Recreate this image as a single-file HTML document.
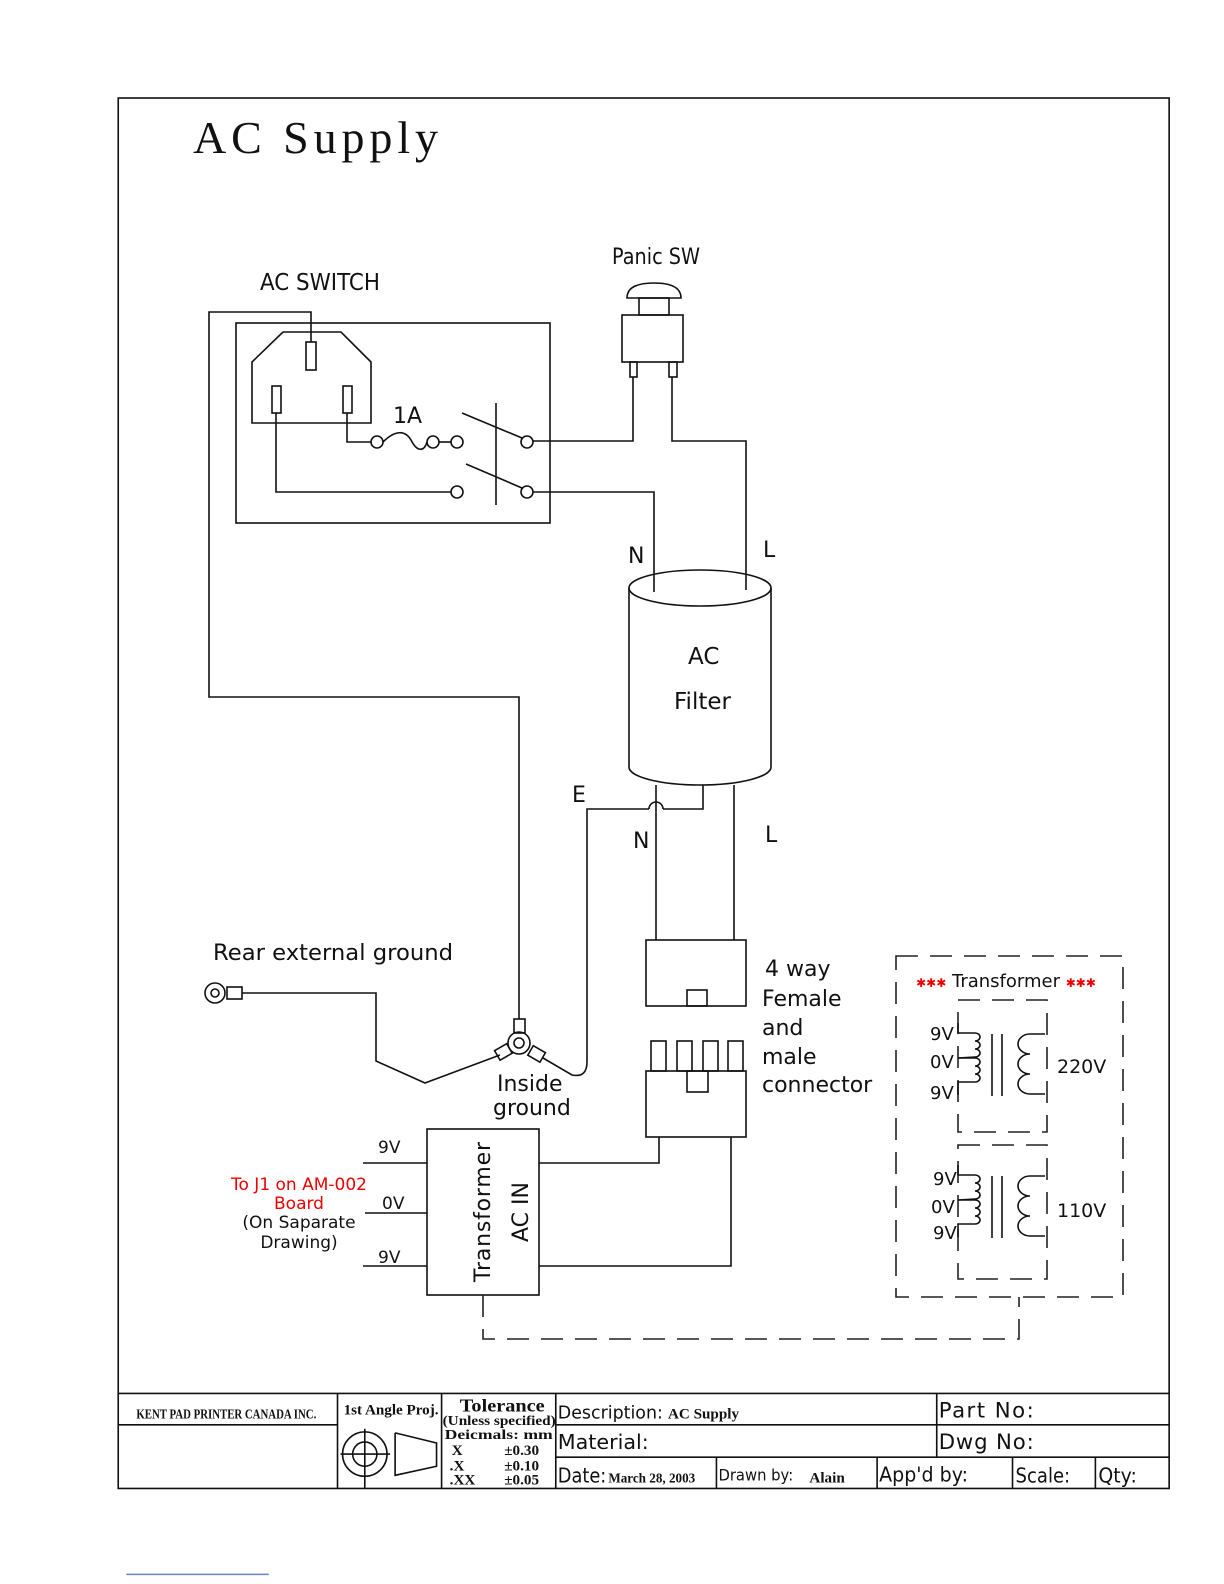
<!DOCTYPE html>
<html><head><meta charset="utf-8"><style>
html,body{margin:0;padding:0;background:#fff}
svg{display:block}
text{font-family:"DejaVu Sans","Liberation Sans",sans-serif;fill:#111}
.s{fill:none;stroke:#111;stroke-width:1.6}
.d{fill:none;stroke:#222;stroke-width:1.6;stroke-dasharray:22 12}
.tb{font-family:"Liberation Serif",serif;font-weight:bold}
</style></head><body>
<svg width="1224" height="1584" viewBox="0 0 1224 1584" xmlns="http://www.w3.org/2000/svg">
<text x="193" y="153" style="font-family:'Liberation Serif',serif;font-size:46px" textLength="245">AC  Supply</text>

<!-- AC switch -->
<text x="260" y="290" font-size="23" textLength="120" lengthAdjust="spacingAndGlyphs">AC SWITCH</text>
<rect x="236" y="323" width="314" height="200" class="s"/>
<polyline class="s" points="283,332 341,332 371,362 371,423 252,423 252,362 283,332"/>
<rect x="306" y="342" width="10" height="28" class="s"/>
<rect x="272" y="386" width="9" height="27" class="s"/>
<rect x="343" y="386" width="9" height="27" class="s"/>
<polyline class="s" points="311,342 311,312 209,312 209,697 519,697 519,1019"/>
<polyline class="s" points="347,413 347,442 371,442"/>
<circle cx="377" cy="442" r="6" class="s"/>
<path class="s" d="M383,442 C395,430 405,430 411,440 C417,452 424,452 427,442"/>
<circle cx="433" cy="442" r="6" class="s"/>
<line x1="439" y1="442" x2="451" y2="442" class="s"/>
<circle cx="457" cy="442" r="6" class="s"/>
<text x="393" y="423" font-size="22">1A</text>
<line x1="462" y1="413" x2="522" y2="438" class="s"/>
<line x1="466" y1="464" x2="522" y2="488" class="s"/>
<line x1="496" y1="403" x2="496" y2="505" class="s"/>
<circle cx="527" cy="442" r="6" class="s"/>
<circle cx="527" cy="492" r="6" class="s"/>
<polyline class="s" points="276,413 276,492 451,492"/>
<circle cx="457" cy="492" r="6" class="s"/>

<!-- Panic switch -->
<text x="612" y="264" font-size="22" textLength="88" lengthAdjust="spacingAndGlyphs">Panic SW</text>
<path class="s" d="M627,298 Q627,283 654,283 Q681,283 681,298 Z"/>
<rect x="639" y="298" width="30" height="17" class="s"/>
<rect x="622" y="315" width="61" height="47" class="s"/>
<rect x="630" y="362" width="7" height="15" class="s"/>
<rect x="669" y="362" width="8" height="15" class="s"/>
<polyline class="s" points="633,377 633,441 533,441"/>
<polyline class="s" points="672,377 672,441 746,441 746,590"/>
<polyline class="s" points="533,492 654,492 654,592"/>
<text x="628" y="563" font-size="22">N</text>
<text x="763" y="557" font-size="22">L</text>

<!-- Filter -->
<path class="s" d="M629,588 L629,767 A71,18 0 0 0 771,767 L771,588"/>
<ellipse cx="700" cy="588" rx="71" ry="18" class="s"/>
<text x="688" y="664" font-size="23">AC</text>
<text x="674" y="709" font-size="23">Filter</text>
<text x="572" y="802" font-size="22">E</text>
<polyline class="s" points="703,785 703,809 663,809"/>
<path class="s" d="M663,809 A7,7 0 0 0 649,809"/>
<path class="s" d="M649,809 L587,809 L587,1062 Q587,1078 572,1075 L543,1058"/>
<line x1="656" y1="785" x2="656" y2="940" class="s"/>
<line x1="734" y1="785" x2="734" y2="940" class="s"/>
<text x="633" y="848" font-size="22">N</text>
<text x="765" y="842" font-size="22">L</text>

<!-- connectors -->
<rect x="646" y="940" width="100" height="66" class="s"/>
<rect x="687" y="990" width="20" height="16" class="s"/>
<rect x="651" y="1041" width="15" height="30" class="s"/>
<rect x="677" y="1041" width="15" height="30" class="s"/>
<rect x="703" y="1041" width="15" height="30" class="s"/>
<rect x="728" y="1041" width="15" height="30" class="s"/>
<rect x="646" y="1071" width="100" height="66" class="s"/>
<rect x="687" y="1071" width="21" height="21" class="s"/>
<text font-size="22"><tspan x="765" y="976">4 way</tspan><tspan x="762" y="1006">Female</tspan><tspan x="762" y="1035">and</tspan><tspan x="762" y="1064">male</tspan><tspan x="762" y="1092">connector</tspan></text>

<!-- ground -->
<text x="213" y="960" font-size="22" textLength="240" lengthAdjust="spacingAndGlyphs">Rear external ground</text>
<circle cx="215" cy="993" r="10" class="s"/>
<circle cx="215" cy="993" r="4" class="s"/>
<rect x="227" y="987" width="15" height="12" class="s"/>
<polyline class="s" points="242,993 376,993 376,1061 425,1083 500,1055"/>
<rect x="514" y="1019" width="11" height="14" class="s"/>
<circle cx="519" cy="1043" r="11" class="s"/>
<circle cx="519" cy="1043" r="5" class="s"/>
<g transform="translate(504,1051) rotate(-30)"><rect x="-8" y="-5" width="14" height="11" class="s"/></g>
<g transform="translate(536,1053) rotate(30)"><rect x="-6" y="-5" width="14" height="11" class="s"/></g>
<text x="497" y="1091" font-size="22">Inside</text>
<text x="493" y="1115" font-size="22">ground</text>

<!-- Transformer block -->
<rect x="427" y="1129" width="112" height="166" class="s"/>
<text transform="translate(490,1212) rotate(-90)" font-size="22" text-anchor="middle" textLength="140">Transformer</text>
<text transform="translate(528,1212) rotate(-90)" font-size="22" text-anchor="middle">AC IN</text>
<line x1="363" y1="1163" x2="427" y2="1163" class="s"/>
<line x1="365" y1="1213" x2="427" y2="1213" class="s"/>
<line x1="363" y1="1266" x2="427" y2="1266" class="s"/>
<text x="378" y="1153" font-size="17">9V</text>
<text x="382" y="1209" font-size="17">0V</text>
<text x="378" y="1263" font-size="17">9V</text>
<polyline class="s" points="539,1163 659,1163 659,1137"/>
<polyline class="s" points="539,1266 731,1266 731,1137"/>
<text font-size="17" text-anchor="middle"><tspan x="299" y="1190" style="fill:#e00">To J1 on AM-002</tspan><tspan x="299" y="1209" style="fill:#e00">Board</tspan><tspan x="299" y="1228">(On Saparate</tspan><tspan x="299" y="1248">Drawing)</tspan></text>
<polyline class="d" points="483,1295 483,1339 1019,1339 1019,1297"/>

<!-- transformer dashed -->
<rect x="896" y="956" width="227" height="341" class="d"/>
<text x="1006" y="987" font-size="18" text-anchor="middle"><tspan style="fill:#e00" font-size="12">✱✱✱</tspan> Transformer <tspan style="fill:#e00" font-size="12">✱✱✱</tspan></text>
<rect x="958" y="1000" width="89" height="132" class="d"/>
<rect x="958" y="1145" width="89" height="134" class="d"/>
<g id="t1">
<polyline class="s" points="958,1023 958,1033 975,1033"/>
<path class="s" d="M975,1033 a5,4 0 0 1 0,8 a5,4 0 0 1 0,8 a5,4 0 0 1 0,8 L958,1058"/>
<path class="s" d="M958,1058 L975,1058 a5,4 0 0 1 0,8 a5,4 0 0 1 0,8 a5,4 0 0 1 0,8 L958,1082 L958,1095"/>
<line x1="992" y1="1034" x2="992" y2="1096" class="s"/>
<line x1="1002" y1="1034" x2="1002" y2="1096" class="s"/>
<path class="s" d="M1045,1034 L1030,1034 a12,10 0 0 0 0,20 a12,10 0 0 0 0,20 a12,10 0 0 0 0,20 L1045,1094"/>
</g>
<use href="#t1" transform="translate(0,142)"/>
<text x="930" y="1040" font-size="18">9V</text>
<text x="930" y="1068" font-size="18">0V</text>
<text x="930" y="1099" font-size="18">9V</text>
<text x="1057" y="1073" font-size="19">220V</text>
<text x="933" y="1185" font-size="18">9V</text>
<text x="931" y="1213" font-size="18">0V</text>
<text x="933" y="1239" font-size="18">9V</text>
<text x="1057" y="1217" font-size="19">110V</text>

<!-- frame + title block (scaled) -->
<g transform="scale(1.0105)">
<rect x="117" y="97" width="1040" height="1376" class="s"/>
<g class="s">
<line x1="117" y1="1379" x2="1157" y2="1379"/>
<line x1="550" y1="1410" x2="1157" y2="1410"/>
<line x1="117" y1="1410" x2="334" y2="1410"/>
<line x1="550" y1="1442" x2="1157" y2="1442"/>
<line x1="334" y1="1379" x2="334" y2="1473"/>
<line x1="437" y1="1379" x2="437" y2="1473"/>
<line x1="550" y1="1379" x2="550" y2="1473"/>
<line x1="927" y1="1379" x2="927" y2="1442"/>
<line x1="709" y1="1442" x2="709" y2="1473"/>
<line x1="868" y1="1442" x2="868" y2="1473"/>
<line x1="1002" y1="1442" x2="1002" y2="1473"/>
<line x1="1084" y1="1442" x2="1084" y2="1473"/>
<circle cx="361" cy="1439" r="22"/><circle cx="361" cy="1439" r="12"/>
<line x1="337" y1="1439" x2="386" y2="1439"/><line x1="361" y1="1414" x2="361" y2="1473"/>
<polyline points="391,1418 432,1428 432,1451 391,1460 391,1418"/>
</g>
<text class="tb" x="135" y="1404" font-size="14" textLength="178" lengthAdjust="spacingAndGlyphs">KENT PAD PRINTER CANADA INC.</text>
<text class="tb" x="340" y="1400" font-size="15" textLength="94" lengthAdjust="spacingAndGlyphs">1st Angle Proj.</text>
<text class="tb" x="455" y="1397" font-size="18" textLength="84" lengthAdjust="spacingAndGlyphs">Tolerance</text>
<text class="tb" x="438" y="1410" font-size="14" textLength="112" lengthAdjust="spacingAndGlyphs">(Unless specified)</text>
<text class="tb" x="440" y="1424" font-size="14" textLength="107" lengthAdjust="spacingAndGlyphs">Deicmals:    mm</text>
<text class="tb" x="447" y="1440" font-size="15">X</text><text class="tb" x="499" y="1440" font-size="15">±0.30</text>
<text class="tb" x="445" y="1455" font-size="15">.X</text><text class="tb" x="499" y="1455" font-size="15">±0.10</text>
<text class="tb" x="445" y="1469" font-size="15">.XX</text><text class="tb" x="499" y="1469" font-size="15">±0.05</text>
<text x="552" y="1404" font-size="18" textLength="104" lengthAdjust="spacingAndGlyphs">Description:</text><text class="tb" x="661" y="1404" font-size="15">AC Supply</text>
<text x="552" y="1434" font-size="20" textLength="90" lengthAdjust="spacingAndGlyphs">Material:</text>
<text x="552" y="1467" font-size="20" textLength="48" lengthAdjust="spacingAndGlyphs">Date:</text><text class="tb" x="602" y="1467" font-size="13">March 28, 2003</text>
<text x="711" y="1465" font-size="16" textLength="74" lengthAdjust="spacingAndGlyphs">Drawn by:</text><text class="tb" x="801" y="1467" font-size="15">Alain</text>
<text x="870" y="1466" font-size="20" textLength="88" lengthAdjust="spacingAndGlyphs">App'd by:</text>
<text x="1005" y="1467" font-size="20" textLength="54" lengthAdjust="spacingAndGlyphs">Scale:</text>
<text x="1087" y="1467" font-size="20" textLength="38" lengthAdjust="spacingAndGlyphs">Qty:</text>
<text x="929" y="1403" font-size="21" textLength="94">Part No:</text>
<text x="929" y="1434" font-size="21" textLength="94">Dwg  No:</text>
<line x1="125" y1="1558" x2="266" y2="1558" stroke="#6a7fd0" stroke-width="1.5"/>
</g>
</svg>
</body></html>
